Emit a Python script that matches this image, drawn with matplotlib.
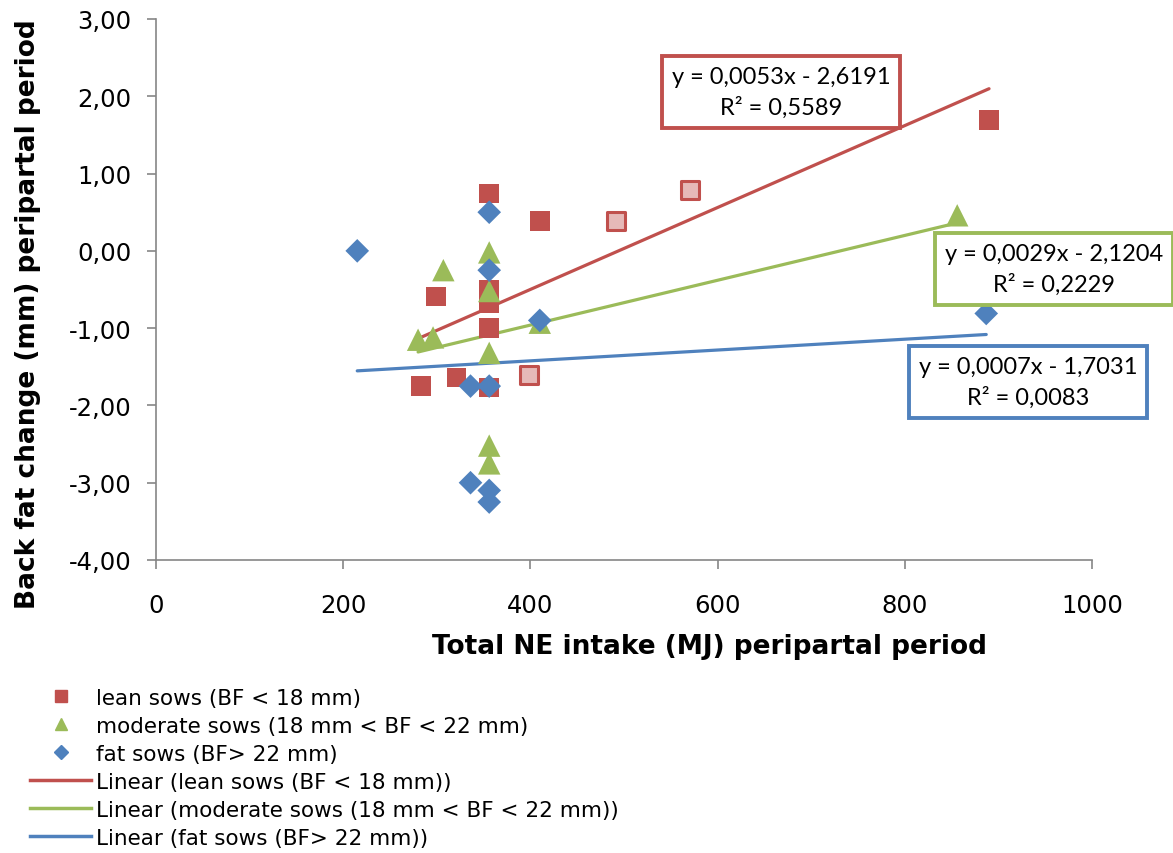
import matplotlib
matplotlib.use("Agg")
import matplotlib.pyplot as plt
from matplotlib.lines import Line2D
import numpy as np

# data
lean_x = [356, 410, 299, 356, 356, 356, 283, 321, 356, 890]
lean_y = [0.74, 0.39, -0.59, -0.50, -0.68, -1.00, -1.75, -1.64, -1.77, 1.69]
lean_hl_x = [398, 491, 571]          # highlighted (light) lean points
lean_hl_y = [-1.61, 0.39, 0.79]

mod_x = [356, 307, 356, 280, 296, 356, 410, 356, 356, 856]
mod_y = [-0.02, -0.25, -0.52, -1.15, -1.12, -1.32, -0.93, -2.52, -2.75, 0.46]

fat_x = [215, 356, 356, 410, 336, 356, 336, 356, 356, 887]
fat_y = [0.00, 0.50, -0.25, -0.90, -1.75, -1.75, -3.00, -3.10, -3.25, -0.81]

# trendline coefficients (slope, intercept) and R2 as printed
lean_fit = (0.0053, -2.6191, 0.5589)
mod_fit = (0.0029, -2.1204, 0.2229)
fat_fit = (0.0007, -1.7031, 0.0083)

x_ticks = [0, 200, 400, 600, 800, 1000]
y_ticks = [-4, -3, -2, -1, 0, 1, 2, 3]
y_tick_labels = ["-4,00", "-3,00", "-2,00", "-1,00", "0,00", "1,00", "2,00", "3,00"]

RED = "#C0504D"
GREEN = "#9BBB59"
BLUE = "#4F81BD"
PINK = "#E6B9B8"
GREY = "#868686"

lean_lbl = "lean sows (BF < 18 mm)"
mod_lbl = "moderate sows (18 mm < BF < 22 mm)"
fat_lbl = "fat sows (BF> 22 mm)"

plt.rcParams['font.family'] = ['DejaVu Sans']

W, H = 1173, 854
fig = plt.figure(figsize=(W / 100, H / 100), dpi=100)
ax = fig.add_axes([156 / W, 1 - 561 / H, (1092 - 156) / W, (561 - 20) / H])

ax.set_xlim(0, 1000)
ax.set_ylim(-4, 3)

# trendlines over the data range of each group
def fit_line(xs, fit, color):
    xx = np.array([min(xs), max(xs)])
    ax.plot(xx, fit[0] * xx + fit[1], color=color, lw=2.3, solid_capstyle="round", zorder=2)

fit_line(lean_x + lean_hl_x, lean_fit, RED)
fit_line(mod_x, mod_fit, GREEN)
fit_line(fat_x, fat_fit, BLUE)

ax.scatter(lean_x, lean_y, marker="s", s=200, color=RED, edgecolors="none", zorder=3)
ax.scatter(lean_hl_x, lean_hl_y, marker="s", s=170, facecolor=PINK, edgecolors=RED,
           linewidths=2.2, zorder=3)
ax.scatter(mod_x, mod_y, marker="^", s=260, color=GREEN, edgecolors="none", zorder=4)
ax.scatter(fat_x, fat_y, marker="D", s=145, color=BLUE, edgecolors="none", zorder=5)

# equation boxes
def eq_box(x, y, fit, color):
    txt = "y = %sx - %s\nR² = %s" % (
        ("%.4f" % fit[0]).replace(".", ","), ("%.4f" % -fit[1]).replace(".", ","),
        ("%.4f" % fit[2]).replace(".", ","))
    fig.text(x / W, 1 - y / H, txt, ha="center", va="center", fontsize=17,
             family="Lato", linespacing=1.5,
             bbox=dict(boxstyle="square,pad=0.4", fc="white", ec=color, lw=2.8))

eq_box(781, 93, lean_fit, RED)
eq_box(1054, 270, mod_fit, GREEN)
eq_box(1028, 383, fat_fit, BLUE)

# axes styling
for side in ["top", "right"]:
    ax.spines[side].set_visible(False)
for side in ["left", "bottom"]:
    ax.spines[side].set_color(GREY)
    ax.spines[side].set_linewidth(1.2)
ax.set_xticks(x_ticks)
ax.set_yticks(y_ticks)
ax.set_yticklabels(y_tick_labels)
ax.tick_params(direction="out", length=6.5, width=1.2, color=GREY, labelsize=17.5,
               labelcolor="black")
ax.tick_params(axis="x", pad=17)
ax.tick_params(axis="y", pad=11)

# axis titles, placed as in the original
fig.text(710 / W, 1 - 647 / H, "Total NE intake (MJ) peripartal period", fontsize=19,
         fontweight="bold", ha="center", va="center")
fig.text(28 / W, 1 - 314 / H, "Back fat change (mm) peripartal period", fontsize=19,
         fontweight="bold", ha="center", va="center", rotation=90)

# legend below the plot
handles = [
    Line2D([], [], ls="none", marker="s", ms=9, color=RED),
    Line2D([], [], ls="none", marker="^", ms=9, color=GREEN),
    Line2D([], [], ls="none", marker="D", ms=7, color=BLUE),
    Line2D([], [], color=RED, lw=2.5),
    Line2D([], [], color=GREEN, lw=2.5),
    Line2D([], [], color=BLUE, lw=2.5),
]
labels = [lean_lbl, mod_lbl, fat_lbl,
          "Linear (%s)" % lean_lbl, "Linear (%s)" % mod_lbl, "Linear (%s)" % fat_lbl]
fig.legend(handles, labels, loc="upper left", bbox_to_anchor=(30 / W, 1 - 689 / H),
           frameon=False, fontsize=15.5, handlelength=2.85, handletextpad=0.22,
           labelspacing=0.37, borderpad=0, borderaxespad=0)

fig.savefig("out.png", dpi=100)
